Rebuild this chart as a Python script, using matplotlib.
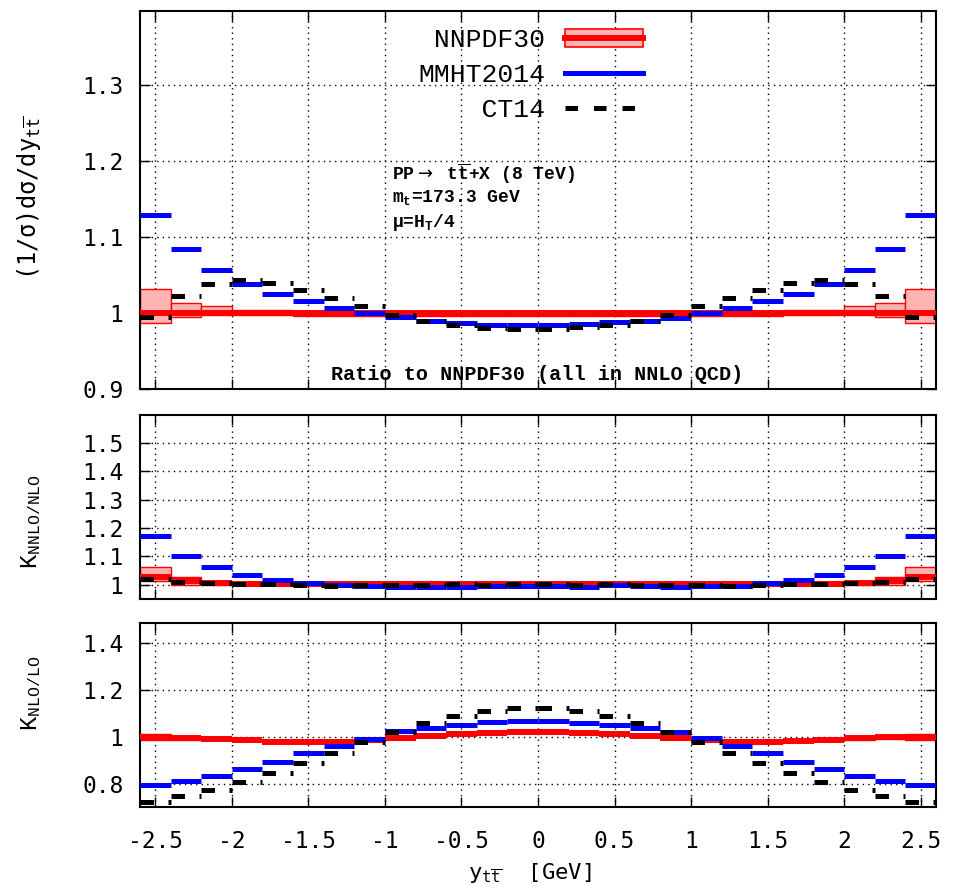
import numpy as np
import matplotlib
matplotlib.use('Agg')
import matplotlib.pyplot as plt
from matplotlib import font_manager
from matplotlib.patches import Patch
from matplotlib.lines import Line2D
from matplotlib.ticker import FuncFormatter, FixedLocator

plt.rcParams['font.family'] = ['DejaVu Sans Mono', 'DejaVu Sans']
plt.rcParams['axes.unicode_minus'] = False

# ---- data -------------------------------------------------------------
edges = [-2.6, -2.4, -2.2, -2.0, -1.8, -1.6, -1.4, -1.2, -1.0, -0.8, -0.6, -0.4, -0.2, 0.0,
         0.2, 0.4, 0.6, 0.8, 1.0, 1.2, 1.4, 1.6, 1.8, 2.0, 2.2, 2.4, 2.6]

# top panel: ratio to NNPDF30
nnpdf_ratio = [1.0] * 26
nnpdf_ratio_lo = [0.987, 0.995, 0.998, 0.998, 0.998, 0.997, 0.997, 0.997, 0.997, 0.997, 0.997, 0.997, 0.997,
                  0.997, 0.997, 0.997, 0.997, 0.997, 0.997, 0.997, 0.997, 0.998, 0.998, 0.998, 0.995, 0.987]
nnpdf_ratio_hi = [1.032, 1.0135, 1.009, 1.005, 1.004, 1.003, 1.003, 1.003, 1.003, 1.003, 1.003, 1.003, 1.003,
                  1.003, 1.003, 1.003, 1.003, 1.003, 1.003, 1.003, 1.003, 1.004, 1.005, 1.009, 1.0135, 1.032]
mmht_ratio = [1.129, 1.084, 1.057, 1.039, 1.026, 1.016, 1.007, 1.000, 0.995, 0.990, 0.987, 0.985, 0.984,
              0.984, 0.986, 0.988, 0.990, 0.994, 1.000, 1.007, 1.016, 1.026, 1.039, 1.057, 1.084, 1.129]
ct14_ratio = [0.995, 1.023, 1.039, 1.044, 1.040, 1.031, 1.020, 1.009, 0.998, 0.9905, 0.985, 0.981, 0.980,
              0.980, 0.982, 0.985, 0.9905, 0.998, 1.009, 1.020, 1.031, 1.040, 1.044, 1.039, 1.023, 0.995]

# middle panel: K NNLO/NLO
nnpdf_knnlo = [1.027, 1.012, 1.007, 1.004, 1.003, 1.002, 1.002, 1.002, 1.002, 1.002, 1.002, 1.002, 1.002,
               1.002, 1.002, 1.002, 1.002, 1.002, 1.002, 1.002, 1.002, 1.003, 1.004, 1.007, 1.012, 1.027]
nnpdf_knnlo_lo = [1.013, 1.000, 1.001, 1.000, 0.999, 0.999, 0.999, 0.999, 0.999, 0.999, 0.999, 0.999, 0.999,
                  0.999, 0.999, 0.999, 0.999, 0.999, 0.999, 0.999, 0.999, 0.999, 1.000, 1.001, 1.000, 1.013]
nnpdf_knnlo_hi = [1.062, 1.028, 1.013, 1.008, 1.006, 1.005, 1.005, 1.005, 1.005, 1.005, 1.005, 1.005, 1.005,
                  1.005, 1.005, 1.005, 1.005, 1.005, 1.005, 1.005, 1.005, 1.006, 1.008, 1.013, 1.028, 1.062]
mmht_knnlo = [1.171, 1.102, 1.062, 1.034, 1.016, 1.007, 1.001, 0.995, 0.993, 0.993, 0.994, 0.995, 0.995,
              0.995, 0.992, 0.998, 0.995, 0.994, 0.995, 0.995, 1.005, 1.017, 1.034, 1.062, 1.102, 1.171]
ct14_knnlo = [1.020, 1.0115, 1.008, 1.0045, 1.002, 1.000, 0.9965, 0.998, 0.998, 1.000, 1.0035, 1.001, 1.002,
              1.002, 1.001, 1.0035, 1.000, 0.998, 0.998, 0.9965, 1.000, 1.002, 1.0045, 1.008, 1.0115, 1.020]

# bottom panel: K NLO/LO
nnpdf_knlo = [1.000, 0.993, 0.990, 0.986, 0.979, 0.977, 0.977, 0.986, 0.996, 1.003, 1.010, 1.017, 1.020,
              1.020, 1.017, 1.011, 1.003, 0.996, 0.986, 0.979, 0.977, 0.981, 0.988, 0.993, 0.999, 1.000]
nnpdf_knlo_err = [0.012, 0.008, 0.005, 0.004, 0.003, 0.003, 0.003, 0.003, 0.003, 0.003, 0.003, 0.003, 0.003,
                  0.003, 0.003, 0.003, 0.003, 0.003, 0.003, 0.003, 0.003, 0.003, 0.004, 0.005, 0.008, 0.012]
mmht_knlo = [0.797, 0.810, 0.834, 0.863, 0.894, 0.931, 0.963, 0.992, 1.023, 1.037, 1.051, 1.063, 1.067,
             1.067, 1.061, 1.051, 1.037, 1.020, 0.993, 0.963, 0.932, 0.895, 0.863, 0.834, 0.811, 0.797]
ct14_knlo = [0.723, 0.749, 0.774, 0.809, 0.845, 0.887, 0.931, 0.977, 1.020, 1.057, 1.088, 1.111, 1.121,
             1.121, 1.111, 1.088, 1.057, 1.020, 0.977, 0.931, 0.887, 0.845, 0.809, 0.774, 0.749, 0.723]

x_ticks = [-2.5, -2.0, -1.5, -1.0, -0.5, 0.0, 0.5, 1.0, 1.5, 2.0, 2.5]
top_yticks = [0.9, 1.0, 1.1, 1.2, 1.3]
mid_yticks = [1.0, 1.1, 1.2, 1.3, 1.4, 1.5]
bot_yticks = [0.8, 1.0, 1.2, 1.4]

# ---- fonts ------------------------------------------------------------
_avail = {f.name for f in font_manager.fontManager.ttflist}
_serifmono = 'DejaVu Sans Mono'
for _cand in ['Liberation Mono', 'Nimbus Mono PS', 'Nimbus Mono L', 'Courier New',
              'FreeMono', 'Cousine', 'Courier Prime', 'Noto Mono']:
    if _cand in _avail:
        _serifmono = _cand
        break
MONO = [_serifmono, 'DejaVu Sans Mono', 'DejaVu Sans']

# ---- styling ----------------------------------------------------------
RED = '#ff0000'
BLUE = '#0000ff'
PINK = '#ffb3b3'
TICKFS = 16.5

edges_a = np.array(edges)
left_e = edges_a[:-1]
right_e = edges_a[1:]
centers = (left_e + right_e) / 2
widths = right_e - left_e

fig = plt.figure(figsize=(9.55, 8.91), dpi=100)
ax1 = fig.add_axes([0.1466, 0.5631, 0.8335, 0.4246])
ax2 = fig.add_axes([0.1466, 0.3277, 0.8335, 0.2068])
ax3 = fig.add_axes([0.1466, 0.0939, 0.8335, 0.2065])

fmt = FuncFormatter(lambda v, p: f'{v:g}')


def style(ax, yticks, ylim, showx):
    ax.set_xlim(-2.6, 2.6)
    ax.set_ylim(*ylim)
    ax.xaxis.set_major_locator(FixedLocator(x_ticks))
    ax.yaxis.set_major_locator(FixedLocator(yticks))
    ax.xaxis.set_major_formatter(fmt)
    ax.yaxis.set_major_formatter(fmt)
    ax.tick_params(direction='in', top=True, right=True, length=7, width=1,
                   labelsize=TICKFS, labelbottom=showx)
    ax.tick_params(axis='y', pad=12)
    ax.tick_params(axis='x', pad=16)
    ax.grid(True, linestyle=(0, (1, 3)), color='black', linewidth=1)
    for s in ax.spines.values():
        s.set_linewidth(1.5)


def draw(ax, nn, lo, hi, mm, ct):
    lo = np.array(lo)
    hi = np.array(hi)
    ax.bar(centers, hi - lo, bottom=lo, width=widths, color=PINK,
           edgecolor=RED, linewidth=1, zorder=2)
    ax.hlines(nn, left_e, right_e, color=RED, linewidth=4.3, zorder=3,
              capstyle='butt')
    ax.hlines(mm, left_e, right_e, color=BLUE, linewidth=3.6, zorder=4,
              capstyle='butt')
    ax.hlines(ct, left_e, right_e, color='black', linewidth=3.6, zorder=5,
              linestyles=[(0, (2.7, 2.9))], capstyle='butt')


style(ax1, top_yticks, (0.9, 1.398), False)
style(ax2, mid_yticks, (0.95, 1.6), False)
style(ax3, bot_yticks, (0.7, 1.483), True)

draw(ax1, nnpdf_ratio, nnpdf_ratio_lo, nnpdf_ratio_hi, mmht_ratio, ct14_ratio)
draw(ax2, nnpdf_knnlo, nnpdf_knnlo_lo, nnpdf_knnlo_hi, mmht_knnlo, ct14_knnlo)
nk = np.array(nnpdf_knlo)
ek = np.array(nnpdf_knlo_err)
draw(ax3, nnpdf_knlo, nk - ek, nk + ek, mmht_knlo, ct14_knlo)

# legend
h_nn = (Patch(facecolor=PINK, edgecolor=RED, linewidth=1.2),
        Line2D([], [], color=RED, linewidth=4.3))
h_mm = Line2D([], [], color=BLUE, linewidth=3.6)
h_ct = Line2D([], [], color='black', linewidth=3.6, dashes=(2.5, 3.2),
              dash_capstyle='butt')
ax1.legend([h_nn, h_mm, h_ct], [' NNPDF30', 'MMHT2014', '    CT14'],
           loc='upper right', bbox_to_anchor=(0.632, 0.955), frameon=False,
           markerfirst=False, handlelength=2.95, handletextpad=0.75,
           labelspacing=0.42, borderpad=0, borderaxespad=0,
           prop={'family': MONO, 'size': 19})

# annotations
ann = dict(transform=ax1.transAxes, family=MONO, fontweight='bold',
           fontsize=13, ha='left', va='center')
ax1.text(0.3166, 0.569, 'PP$\\rightarrow$ t$\\mathregular{\\overline{t}}$+X (8 TeV)', **ann)
ax1.text(0.3166, 0.506, '$\\mathregular{m_t}$=173.3 GeV', **ann)
ax1.text(0.3166, 0.440, '\u03bc=$\\mathregular{H_T}$/4', **ann)
ax1.text(0.499, 0.038, 'Ratio to NNPDF30 (all in NNLO QCD)', transform=ax1.transAxes,
         family=MONO, fontweight='bold', fontsize=14.5, ha='center', va='center')

# axis labels
ax1.set_ylabel('(1/\u03c3)d\u03c3/dy$\\mathregular{_{t\\overline{t}}}$', fontsize=17,
               family=['DejaVu Sans Mono', 'DejaVu Sans'])
ax1.yaxis.set_label_coords(-0.122, 0.505)
ax2.set_ylabel('$\\mathregular{K_{NNLO/NLO}}$', fontsize=17, family=MONO)
ax2.yaxis.set_label_coords(-0.122, 0.418)
ax3.set_ylabel('$\\mathregular{K_{NLO/LO}}$', fontsize=17, family=MONO)
ax3.yaxis.set_label_coords(-0.122, 0.62)
ax3.set_xlabel('y$\\mathregular{_{t\\overline{t}}}$  [GeV]', fontsize=16)
ax3.xaxis.set_label_coords(0.49, -0.29)

fig.savefig('out.png', dpi=100)
